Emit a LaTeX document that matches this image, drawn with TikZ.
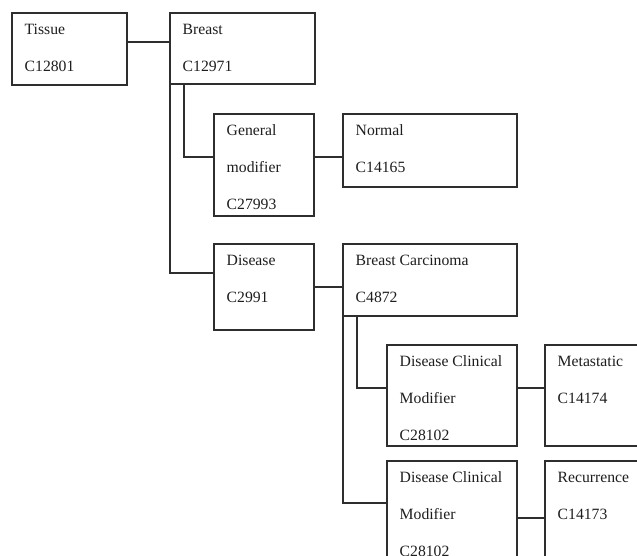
\documentclass[tikz,border=0pt]{standalone}
\usepackage{fontspec}
\setmainfont{Liberation Serif}
\usetikzlibrary{calc}
\definecolor{lc}{HTML}{2E2E2E}
\definecolor{tc}{HTML}{1E1E1E}
\tikzset{
  box/.style={draw=lc, line width=1.1pt, rectangle, inner sep=0pt, outer sep=0pt, anchor=north west},
  lbl/.style={anchor=base west, inner sep=0pt, font=\fontsize{15.7}{18}\selectfont, text=tc},
  link/.style={draw=lc, line width=1.1pt},
}
\newcommand\mkbox[6]{%
  \node[box, minimum width=#4pt, minimum height=#5pt] (#1) at (#2,#3) {};
  \foreach \t [count=\i] in {#6}{\node[lbl] (#1-\i) at ($(#1.north west)+(12.5,{21.5+(\i-1)*37})$) {\t};}
}
\begin{document}
\begin{tikzpicture}[x=1pt,y=-1pt]
  \clip (0,0) rectangle (637,556);
  \fill[white] (0,0) rectangle (637,556);
  \mkbox{tissue}{12}{13}{115}{72}{Tissue,C12801}
  \mkbox{breast}{170}{13}{145}{71}{Breast,C12971}
  \mkbox{genmod}{214}{114}{100}{102}{General,modifier,C27993}
  \mkbox{normal}{343}{114}{174}{73}{Normal,C14165}
  \mkbox{disease}{214}{244}{100}{86}{Disease,C2991}
  \mkbox{bc}{343}{244}{174}{72}{Breast Carcinoma,C4872}
  \mkbox{dcma}{387}{345}{130}{101}{Disease Clinical,Modifier,C28102}
  \mkbox{meta}{545}{345}{120}{101}{Metastatic,C14174}
  \mkbox{dcmb}{387}{461}{130}{130}{Disease Clinical,Modifier,C28102}
  \mkbox{recur}{545}{461}{120}{130}{Recurrence,C14173}
  \draw[link] ($(tissue.north east)+(0,29)$) -- ($(breast.north west)+(0,29)$);
  \draw[link] ($(breast.south west)+(14,0)$) |- ($(genmod.north west)+(0,43)$);
  \draw[link] (breast.south west) |- ($(disease.north west)+(0,29)$);
  \draw[link] ($(genmod.north east)+(0,43)$) -- ($(normal.north west)+(0,43)$);
  \draw[link] ($(disease.north east)+(0,43)$) -- ($(bc.north west)+(0,43)$);
  \draw[link] ($(bc.south west)+(14,0)$) |- ($(dcma.north west)+(0,43)$);
  \draw[link] (bc.south west) |- ($(dcmb.north west)+(0,42)$);
  \draw[link] ($(dcma.north east)+(0,43)$) -- ($(meta.north west)+(0,43)$);
  \draw[link] ($(dcmb.north east)+(0,57)$) -- ($(recur.north west)+(0,57)$);
\end{tikzpicture}
\end{document}
